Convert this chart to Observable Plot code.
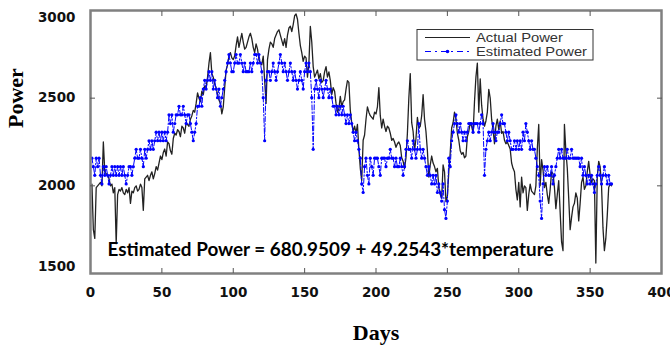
<!DOCTYPE html>
<html>
<head>
<meta charset="utf-8">
<script src="https://cdn.jsdelivr.net/npm/d3@7"></script>
<script src="https://cdn.jsdelivr.net/npm/@observablehq/plot@0.6"></script>
<style>
  html, body { margin: 0; padding: 0; background: #fff; }
  #chart { width: 670px; height: 345px; }
</style>
</head>
<body>
<div id="chart"></div>
<script>
const actual = [
  2010,1750,1700,1990,2000,2010,2020,2000,2250,2080,
  2070,2060,2040,2000,2010,1960,1990,1670,1950,1980,
  1970,1990,1960,1950,1980,1960,1990,1900,1970,1960,
  1990,2000,1970,1980,2010,1990,1860,2040,2050,2060,
  2030,2060,2080,2040,2070,2110,2090,2130,2170,2150,
  2190,2210,2170,2250,2240,2200,2180,2270,2300,2290,
  2320,2310,2280,2340,2330,2300,2360,2350,2340,2380,
  2400,2430,2420,2470,2530,2500,2480,2540,2520,2570,
  2560,2620,2700,2760,2640,2620,2580,2560,2520,2490,
  2470,2410,2450,2560,2660,2690,2740,2760,2730,2720,
  2740,2800,2850,2790,2830,2870,2820,2780,2790,2820,
  2850,2870,2840,2790,2760,2810,2780,2720,2700,2690,
  2740,2600,2470,2720,2780,2820,2810,2790,2840,2860,
  2880,2890,2860,2830,2800,2840,2790,2860,2900,2910,
  2880,2920,2970,2980,2950,2870,2800,2760,2710,2740,
  2730,2620,2700,2910,2820,2680,2620,2640,2660,2610,
  2640,2590,2600,2650,2680,2620,2650,2600,2520,2560,
  2540,2470,2420,2440,2510,2450,2480,2490,2550,2600,
  2590,2430,2360,2310,2340,2300,2350,2210,2100,2030,
  2260,2290,2380,2450,2420,2400,2390,2380,2420,2410,
  2450,2560,2400,2330,2380,2340,2310,2340,2330,2300,
  2260,2270,2250,2220,2240,2250,2230,2160,2140,2100,
  2160,2300,2500,2640,2360,2310,2200,2270,2390,2330,
  2340,2400,2520,2380,2310,2200,2050,2120,2170,2130,
  2110,2080,2100,1990,1950,1930,2120,2080,1910,1940,
  2080,2190,2330,2360,2420,2380,2300,2260,2200,2180,
  2190,2160,2170,2280,2310,2360,2340,2300,2480,2620,
  2700,2420,2610,2460,2380,2340,2370,2420,2550,2500,
  2380,2320,2240,2340,2380,2320,2370,2300,2310,2260,
  2240,2250,2230,2210,2130,2100,2080,1980,1920,2020,
  1880,2050,1960,2000,1990,1860,1950,2010,1970,1960,
  1950,2000,2210,2350,2000,2150,2090,1990,2020,1950,
  1900,1980,2080,2070,1990,1870,1950,2030,1850,1680,
  1630,2350,2200,2100,1930,1750,1820,1880,1900,1960,
  1930,1800,1900,2020,2050,1980,2000,2080,2140,2060,
  2020,2040,2030,1560,2050,2140,2110,2000,1760,1630,
  1700,1830,1990,2010,2000
];
const estimated = [
  2158,2109,2060,2158,2109,2158,2060,2011,2109,2060,
  2109,2060,2011,2060,2109,2060,2109,2060,2109,2060,
  2109,2060,2109,2060,2011,2060,2109,2109,2060,2109,
  2158,2208,2158,2158,2208,2158,2109,2208,2158,2208,
  2257,2208,2257,2208,2257,2306,2257,2306,2257,2306,
  2257,2306,2257,2306,2405,2355,2405,2306,2355,2405,
  2405,2454,2405,2405,2454,2405,2355,2405,2405,2355,
  2306,2257,2306,2355,2454,2454,2503,2454,2552,2602,
  2552,2602,2651,2602,2651,2552,2602,2552,2503,2552,
  2454,2503,2552,2602,2651,2700,2749,2700,2651,2651,
  2700,2749,2700,2700,2749,2700,2651,2700,2651,2651,
  2651,2700,2651,2700,2749,2749,2700,2749,2700,2651,
  2503,2257,2602,2651,2651,2602,2651,2700,2651,2602,
  2651,2700,2749,2700,2651,2700,2651,2602,2651,2700,
  2651,2602,2651,2602,2552,2602,2651,2602,2552,2651,
  2700,2651,2700,2651,2503,2208,2552,2602,2552,2503,
  2602,2552,2503,2552,2602,2552,2503,2552,2503,2454,
  2454,2405,2454,2405,2454,2405,2454,2405,2355,2405,
  2355,2405,2355,2306,2257,2306,2257,2208,2158,2011,
  1962,2109,2158,2060,2011,2158,2109,2060,2158,2158,
  2158,2109,2060,2158,2158,2158,2109,2158,2158,2208,
  2158,2158,2109,2158,2109,2109,2158,2109,2060,2109,
  2208,2257,2208,2208,2158,2257,2208,2158,2208,2355,
  2208,2158,2208,2158,2109,2060,2109,2060,2011,2060,
  2011,2060,1962,2011,1962,1913,2011,1864,1814,1913,
  2158,2109,2257,2306,2355,2405,2355,2306,2355,2306,
  2257,2306,2257,2306,2355,2355,2355,2306,2355,2355,
  2355,2306,2355,2405,2355,2060,2208,2257,2306,2257,
  2306,2355,2306,2257,2306,2306,2355,2405,2355,2355,
  2306,2257,2306,2257,2208,2208,2257,2208,2257,2208,
  2257,2208,2306,2257,2355,2306,2257,2208,2257,2208,
  2208,2158,2109,2060,1913,1814,2011,2109,2060,2109,
  2060,2060,2109,2011,2060,2109,2158,2208,2158,2208,
  2158,2158,2158,2208,2158,2158,2208,2158,2158,2158,
  2158,2158,2109,2158,2060,2109,2060,2011,2060,2011,
  2060,2011,1962,2011,2060,2109,2060,2011,2060,2109,
  2060,2011,2060,2011,2011
];
const days = d3.range(1, actual.length + 1);
const xTicks = [0, 50, 100, 150, 200, 250, 300, 350, 400];
const yTicks = [1500, 2000, 2500, 3000];
const seriesNames = ["Actual Power", "Estimated Power"];
const equation = "Estimated Power = 680.9509 + 49.2543*temperature";

const data = days.map((d, i) => ({day: d, actual: actual[i], est: estimated[i]}));
const blank = () => "";
const fmt = d3.format("d");

const chart = Plot.plot({
  width: 670, height: 345,
  marginLeft: 90, marginRight: 9, marginTop: 10, marginBottom: 72,
  x: {domain: [0, 400]},
  y: {domain: [1500, 3000]},
  style: {fontFamily: "DejaVu Sans", fontSize: "13.5px", fontWeight: "bold", background: "white", color: "#111"},
  marks: [
    Plot.line(data, {x: "day", y: "actual", stroke: "#222", strokeWidth: 1.3}),
    Plot.line(data, {x: "day", y: "est", stroke: "#0000ff", strokeWidth: 1, strokeDasharray: "5,2,1.5,2"}),
    Plot.dot(data, {x: "day", y: "est", r: 1.6, fill: "#0000ff", stroke: "none"}),
    Plot.frame({stroke: "#808080", strokeWidth: 2.5}),
    Plot.axisX({ticks: xTicks, tickSize: 0, tickPadding: 14, tickFormat: fmt, label: null}),
    Plot.axisX({ticks: xTicks.slice(1, -1), tickSize: -5, tickFormat: blank, label: null, stroke: "#555"}),
    Plot.axisX({anchor: "top", ticks: xTicks.slice(1, -1), tickSize: -5, tickFormat: blank, label: null, stroke: "#555"}),
    Plot.axisY({ticks: yTicks.slice(1, -1), tickSize: 0, tickPadding: 15, tickFormat: fmt, label: null}),
    Plot.axisY({ticks: yTicks.slice(-1), tickSize: 0, tickPadding: 15, dy: 7, tickFormat: fmt, label: null}),
    Plot.axisY({ticks: yTicks.slice(0, 1), tickSize: 0, tickPadding: 15, dy: -7, tickFormat: fmt, label: null}),
    Plot.axisY({ticks: yTicks.slice(1, -1), tickSize: -5, tickFormat: blank, label: null, stroke: "#555"}),
    Plot.axisY({anchor: "right", ticks: yTicks.slice(1, -1), tickSize: -5, tickFormat: blank, label: null, stroke: "#555"}),
    Plot.text([equation], {frameAnchor: "bottom-left", textAnchor: "start", lineAnchor: "middle", dx: 17, dy: -23,
      fontFamily: "Lato", fontSize: 18, fontWeight: "bold", fill: "#000", className: "eq"}),
    Plot.text(["Days"], {frameAnchor: "bottom", lineAnchor: "middle", dy: 59,
      fontFamily: "Liberation Serif", fontSize: 22, fontWeight: "bold", fill: "#000"}),
    Plot.text(["Power"], {frameAnchor: "left", lineAnchor: "middle", rotate: -90, dx: -75, dy: -14,
      fontFamily: "Liberation Serif", fontSize: 22, fontWeight: "bold", fill: "#000"})
  ]
});

const svg = d3.select(chart);
// stretch the equation to the reference width
svg.selectAll(".eq text").attr("textLength", 446).attr("lengthAdjust", "spacingAndGlyphs");

// legend box inside the plot
const lg = svg.append("g").attr("font-family", "Liberation Sans").attr("font-weight", "normal")
  .attr("text-anchor", "start");
lg.append("rect").attr("x", 417).attr("y", 29.5).attr("width", 176).attr("height", 30.5)
  .attr("fill", "white").attr("stroke", "#333").attr("stroke-width", 1);
lg.append("line").attr("x1", 425).attr("x2", 470).attr("y1", 37.5).attr("y2", 37.5)
  .attr("stroke", "#222").attr("stroke-width", 1.1);
lg.append("line").attr("x1", 425).attr("x2", 470).attr("y1", 51.5).attr("y2", 51.5)
  .attr("stroke", "#0000ff").attr("stroke-width", 1).attr("stroke-dasharray", "6,4,2,4");
lg.append("circle").attr("cx", 447.5).attr("cy", 51.5).attr("r", 1.8).attr("fill", "#0000ff");
seriesNames.forEach((name, i) => {
  lg.append("text").attr("x", 476).attr("y", 37.5 + 14 * i).attr("dy", "0.35em")
    .attr("font-size", 12.5).attr("fill", "#333").attr("text-anchor", "start")
    .attr("textLength", i === 0 ? 87 : 111).attr("lengthAdjust", "spacingAndGlyphs")
    .text(name);
});

document.getElementById("chart").appendChild(chart);
</script>
</body>
</html>
